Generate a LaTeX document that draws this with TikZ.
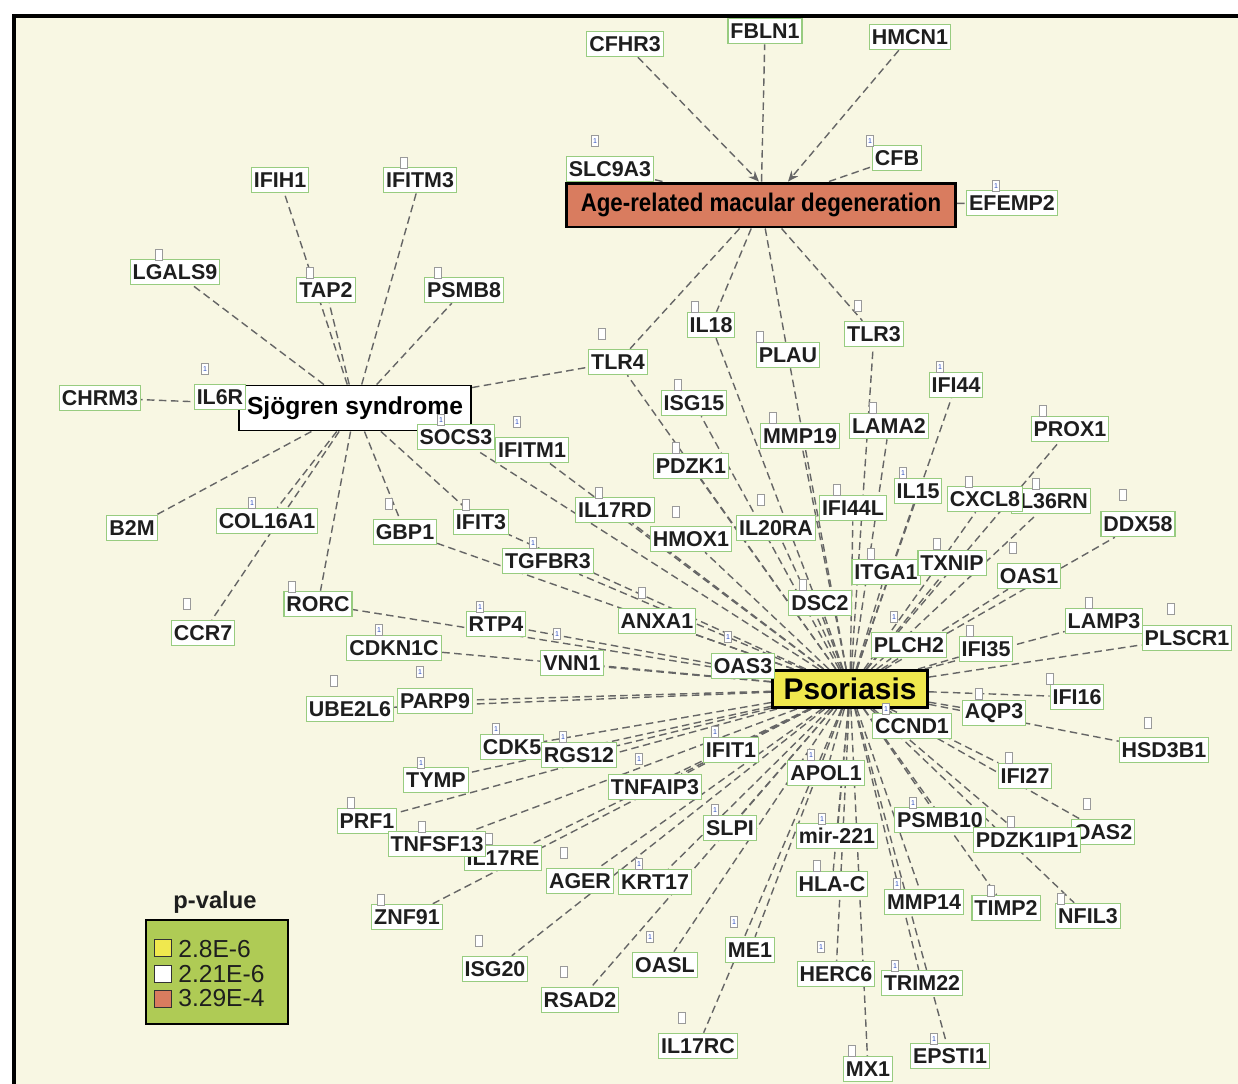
\documentclass[tikz,border=0pt]{standalone}
\usepackage{fontspec}
\setmainfont{Liberation Sans}
\usetikzlibrary{arrows.meta}
\definecolor{paper}{HTML}{F8F7E3}
\definecolor{linkgray}{HTML}{666666}
\definecolor{genegreen}{HTML}{98CC80}
\definecolor{inkgray}{HTML}{1E1E1E}
\definecolor{amdred}{HTML}{D97C5F}
\definecolor{psoyellow}{HTML}{F0E84E}
\definecolor{legendgreen}{HTML}{AFCB55}
\definecolor{taggray}{HTML}{9A9A9A}
\definecolor{tagblue}{HTML}{3050C0}
\pgfdeclarelayer{frame}
\pgfdeclarelayer{edges}
\pgfsetlayers{frame,edges,main}
\tikzset{
  gene/.style={draw=genegreen,line width=0.6pt,fill=white,text=inkgray,
    font=\fontsize{12.2}{12.2}\selectfont\bfseries,inner xsep=1.4pt,inner ysep=0pt,minimum height=14.5pt},
  disease/.style={draw=black,text=black,inner sep=0pt},
  link/.style={draw=linkgray,line width=0.8pt,dash pattern=on 4.3pt off 2.5pt},
  tagbox/.style={draw=taggray,fill=white,line width=0.5pt,minimum width=0.14cm,minimum height=0.23cm,inner sep=0pt},
  tagone/.style={tagbox,text=tagblue,font=\fontsize{4}{4}\selectfont},
  swatch/.style={draw=black!80,line width=1pt,minimum size=0.34cm,inner sep=0pt},
  legtext/.style={anchor=west,inner sep=0pt,text=inkgray,font=\fontsize{14}{14}\selectfont}
}
\begin{document}
\begin{tikzpicture}[x=0.02cm,y=-0.02cm]
\useasboundingbox (0,0) rectangle (1238,1083);
\clip (0,0) rectangle (1238,1083);
\begin{pgfonlayer}{frame}
  \fill[paper] (14,16) rectangle (1260,1100);
  \draw[line width=2.3pt] (14,1100) -- (14,16) -- (1260,16);
\end{pgfonlayer}

\node[disease,fill=amdred,line width=1.7pt,minimum width=7.78cm,minimum height=0.88cm,
  font=\fontsize{14.5}{14.5}\selectfont\bfseries] (amd) at (761,205) {\scalebox{0.875}[1]{Age-related macular degeneration}};
\node[disease,fill=white,line width=1.1pt,minimum width=4.64cm,minimum height=0.9cm,
  font=\fontsize{14}{14}\selectfont\bfseries] (sjog) at (355,408) {Sjögren syndrome};
\node[disease,fill=psoyellow,line width=1.7pt,minimum width=3.1cm,minimum height=0.74cm,
  font=\fontsize{17}{17}\selectfont\bfseries] (psor) at (850,689) {Psoriasis};

\node[gene] (cfhr3) at (625,44) {CFHR3};
\node[gene] (fbln1) at (765,31) {FBLN1};
\node[gene] (hmcn1) at (910,37) {HMCN1};
\node[gene] (slc9a3) at (610,169) {SLC9A3};
\node[gene] (cfb) at (897,158) {CFB};
\node[gene] (efemp2) at (1012,203) {EFEMP2};
\node[gene] (ifih1) at (280,180) {IFIH1};
\node[gene] (ifitm3) at (420,180) {IFITM3};
\node[gene] (lgals9) at (175,272) {LGALS9};
\node[gene] (tap2) at (326,290) {TAP2};
\node[gene] (psmb8) at (464,290) {PSMB8};
\node[gene] (tlr4) at (618,362) {TLR4};
\node[gene] (il18) at (711,325) {IL18};
\node[gene] (plau) at (788,355) {PLAU};
\node[gene] (tlr3) at (874,334) {TLR3};
\node[gene] (chrm3) at (100,398) {CHRM3};
\node[gene] (il6r) at (220,397) {IL6R};
\node[gene] (socs3) at (456,437) {SOCS3};
\node[gene] (ifitm1) at (532,450) {IFITM1};
\node[gene] (isg15) at (694,403) {ISG15};
\node[gene] (mmp19) at (800,436) {MMP19};
\node[gene] (lama2) at (889,426) {LAMA2};
\node[gene] (ifi44) at (956,385) {IFI44};
\node[gene] (prox1) at (1070,429) {PROX1};
\node[gene] (pdzk1) at (691,466) {PDZK1};
\node[gene] (il15) at (918,491) {IL15};
\node[gene] (il36rn) at (1051,501) {IL36RN};
\node[gene] (cxcl8) at (985,499) {CXCL8};
\node[gene] (ddx58) at (1138,524) {DDX58};
\node[gene] (b2m) at (132,528) {B2M};
\node[gene] (col16a1) at (267,521) {COL16A1};
\node[gene] (gbp1) at (405,532) {GBP1};
\node[gene] (ifit3) at (481,522) {IFIT3};
\node[gene] (il17rd) at (615,510) {IL17RD};
\node[gene] (hmox1) at (691,539) {HMOX1};
\node[gene] (il20ra) at (776,528) {IL20RA};
\node[gene] (ifi44l) at (853,508) {IFI44L};
\node[gene] (tgfbr3) at (548,561) {TGFBR3};
\node[gene] (itga1) at (886,572) {ITGA1};
\node[gene] (txnip) at (952,563) {TXNIP};
\node[gene] (oas1) at (1029,576) {OAS1};
\node[gene] (dsc2) at (820,603) {DSC2};
\node[gene] (rorc) at (318,604) {RORC};
\node[gene] (ccr7) at (203,633) {CCR7};
\node[gene] (rtp4) at (496,624) {RTP4};
\node[gene] (anxa1) at (657,621) {ANXA1};
\node[gene] (cdkn1c) at (394,648) {CDKN1C};
\node[gene] (vnn1) at (572,663) {VNN1};
\node[gene] (oas3) at (743,666) {OAS3};
\node[gene] (plch2) at (909,645) {PLCH2};
\node[gene] (ifi35) at (986,649) {IFI35};
\node[gene] (lamp3) at (1104,621) {LAMP3};
\node[gene] (plscr1) at (1187,638) {PLSCR1};
\node[gene] (ube2l6) at (350,709) {UBE2L6};
\node[gene] (parp9) at (435,701) {PARP9};
\node[gene] (ifi16) at (1077,697) {IFI16};
\node[gene] (aqp3) at (994,713) {AQP3};
\node[gene] (ccnd1) at (912,726) {CCND1};
\node[gene] (hsd3b1) at (1164,750) {HSD3B1};
\node[gene] (cdk5) at (512,747) {CDK5};
\node[gene] (rgs12) at (579,755) {RGS12};
\node[gene] (ifit1) at (731,750) {IFIT1};
\node[gene] (apol1) at (826,773) {APOL1};
\node[gene] (ifi27) at (1025,776) {IFI27};
\node[gene] (tymp) at (436,780) {TYMP};
\node[gene] (tnfaip3) at (655,787) {TNFAIP3};
\node[gene] (prf1) at (367,821) {PRF1};
\node[gene] (psmb10) at (940,820) {PSMB10};
\node[gene] (oas2) at (1103,832) {OAS2};
\node[gene] (pdzk1ip1) at (1027,840) {PDZK1IP1};
\node[gene] (il17re) at (503,858) {IL17RE};
\node[gene] (tnfsf13) at (437,844) {TNFSF13};
\node[gene] (slpi) at (730,828) {SLPI};
\node[gene] (mir221) at (837,836) {mir-221};
\node[gene] (ager) at (580,881) {AGER};
\node[gene] (krt17) at (655,882) {KRT17};
\node[gene] (hlac) at (832,884) {HLA-C};
\node[gene] (mmp14) at (924,902) {MMP14};
\node[gene] (timp2) at (1006,908) {TIMP2};
\node[gene] (nfil3) at (1088,916) {NFIL3};
\node[gene] (znf91) at (407,917) {ZNF91};
\node[gene] (me1) at (750,950) {ME1};
\node[gene] (isg20) at (495,969) {ISG20};
\node[gene] (oasl) at (665,965) {OASL};
\node[gene] (herc6) at (836,974) {HERC6};
\node[gene] (trim22) at (922,983) {TRIM22};
\node[gene] (rsad2) at (580,1000) {RSAD2};
\node[gene] (il17rc) at (698,1046) {IL17RC};
\node[gene] (epsti1) at (950,1056) {EPSTI1};
\node[gene] (mx1) at (868,1069) {MX1};

\begin{pgfonlayer}{edges}
  \draw[link,-{Stealth[length=6pt,width=5pt]}] (cfhr3) -- (amd.95);
  \draw[link,-{Stealth[length=6pt,width=5pt]}] (hmcn1) -- (amd.41);
  \foreach \g in {fbln1,slc9a3,cfb,efemp2,tlr4,il18,plau,tlr3}
    \draw[link] (amd) -- (\g);
  \foreach \g in {ifih1,ifitm3,lgals9,tap2,psmb8,chrm3,il6r,tlr4,socs3,
                  b2m,col16a1,ccr7,rorc,gbp1,ifit3}
    \draw[link] (sjog) -- (\g);
  \foreach \g in {tlr4,il18,plau,tlr3,isg15,mmp19,lama2,ifi44,prox1,pdzk1,il15,
                  cxcl8,il36rn,ddx58,il17rd,hmox1,il20ra,ifi44l,tgfbr3,itga1,txnip,
                  oas1,dsc2,rtp4,anxa1,vnn1,oas3,plch2,ifi35,lamp3,plscr1,parp9,
                  ube2l6,ifi16,aqp3,ccnd1,hsd3b1,cdk5,rgs12,ifit1,apol1,ifi27,tymp,
                  tnfaip3,prf1,psmb10,pdzk1ip1,oas2,tnfsf13,il17re,slpi,mir221,ager,
                  krt17,hlac,mmp14,timp2,nfil3,znf91,me1,isg20,oasl,herc6,trim22,
                  rsad2,il17rc,epsti1,mx1,socs3,ifitm1,ifit3,gbp1,rorc,cdkn1c}
    \draw[link] (psor) -- (\g);
\end{pgfonlayer}

\foreach \x/\y [count=\i] in {159/255,310/273,404/163,438/273,602/334,695/307,760/337,858/306,
    678/385,773/418,873/408,1043/411,676/448,599/493,676/512,761/500,837/490,466/505,
    389/504,292/587,187/604,969/482,1036/484,1123/495,871/554,937/544,1013/548,803/585,
    642/593,970/631,1089/603,1171/609,334/681,1050/679,979/694,1148/723,1009/758,351/803,
    1087/804,1011/822,422/827,489/839,564/853,817/866,991/891,1061/899,381/900,479/941,
    564/972,682/1018,852/1051}
  \node[tagbox] (tag\i) at (\x,\y) {};
\foreach \x/\y [count=\i] in {595/141,870/141,996/186,205/369,441/420,517/422,940/367,
    903/473,252/503,533/543,480/607,379/630,557/634,728/637,894/617,420/672,886/709,
    496/729,563/737,715/732,811/755,421/763,639/759,913/803,715/810,822/819,639/864,
    897/884,734/922,650/937,821/947,895/966,934/1039}
  \node[tagone] (one\i) at (\x,\y) {1};

\node[font=\fontsize{13.5}{13.5}\selectfont\bfseries,text=inkgray] (ptitle) at (215,902) {p-value};
\node[draw=black,line width=1.3pt,fill=legendgreen,minimum width=2.84cm,minimum height=2.08cm] (legend) at (217,972) {};
\node[swatch,fill=psoyellow] (sw1) at (163,948) {};
\node[swatch,fill=white] (sw2) at (163,974) {};
\node[swatch,fill=amdred] (sw3) at (163,999) {};
\node[legtext] (lt1) at (178,949) {2.8E-6};
\node[legtext] (lt2) at (178,974) {2.21E-6};
\node[legtext] (lt3) at (178,998) {3.29E-4};
\end{tikzpicture}
\end{document}
